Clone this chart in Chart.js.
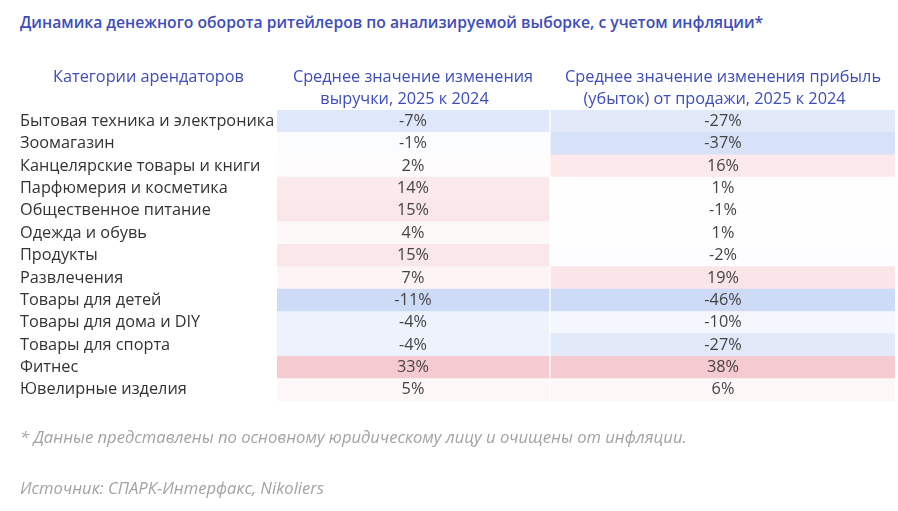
<!DOCTYPE html>
<html>
<head>
<meta charset="utf-8">
<script src="https://cdn.jsdelivr.net/npm/chart.js@4"></script>
<style>
  body { margin: 0; background: #fff; font-family: "Open Sans", sans-serif; }
  #wrap { position: relative; width: 898px; height: 511px; }
  #chart { position: absolute; left: 0; top: 0; }
  .title { position: absolute; left: 20px; top: 11px; font-size: 15.7px; font-weight: 600; color: #3d4db9; white-space: nowrap; }
  .note { position: absolute; left: 20px; font-size: 16.6px; font-style: italic; color: #a3a3a3; white-space: nowrap; }
</style>
</head>
<body>
<div id="wrap">
  <div class="title">Динамика денежного оборота ритейлеров по анализируемой выборке, с учетом инфляции*</div>
  <canvas id="chart" width="898" height="511"></canvas>
  <div class="note" style="top:425px">* Данные представлены по основному юридическому лицу и очищены от инфляции.</div>
  <div class="note" style="top:476px">Источник: СПАРК-Интерфакс, Nikoliers</div>
</div>
<script>
const categories = [
  "Бытовая техника и электроника",
  "Зоомагазин",
  "Канцелярские товары и книги",
  "Парфюмерия и косметика",
  "Общественное питание",
  "Одежда и обувь",
  "Продукты",
  "Развлечения",
  "Товары для детей",
  "Товары для дома и DIY",
  "Товары для спорта",
  "Фитнес",
  "Ювелирные изделия"
];
const revenueChange = [-7, -1, 2, 14, 15, 4, 15, 7, -11, -4, -4, 33, 5];
const profitChange = [-27, -37, 16, 1, -1, 1, -2, 19, -46, -10, -27, 38, 6];
const categoryHeader = "Категории арендаторов";
const columnHeaders = [
  ["Среднее значение изменения", "выручки, 2025 к 2024"],
  ["Среднее значение изменения прибыль", "(убыток) от продажи, 2025 к 2024"]
];

// column layout (x-scale units = px inside the chart area)
const colWidths = [272, 344];
const colGap = 2;
const colStart = [0, colWidths[0] + colGap];
const colEnd = [colWidths[0], colWidths[0] + colGap + colWidths[1]];

const BLUE = [205, 219, 247];
const RED = [245, 203, 209];
const FONT_SIZE = 16.3;
// second header line sits a little left of the first one
const LINE2_PAD = "\u00a0\u00a0\u00a0\u00a0";

const mix = (c, t) => {
  const r = Math.round(255 + (c[0] - 255) * t);
  const g = Math.round(255 + (c[1] - 255) * t);
  const b = Math.round(255 + (c[2] - 255) * t);
  return `rgb(${r},${g},${b})`;
};

// each column has its own scale: strongest negative = full blue, strongest positive = full red
const colorsFor = (values) => {
  const min = Math.min(...values);
  const max = Math.max(...values);
  return values.map((v) => {
    if (v < 0) return mix(BLUE, v / min);
    if (v > 0) return mix(RED, v / max);
    return "#fff";
  });
};

const cellLabels = {
  id: "cellLabels",
  afterDatasetsDraw(chart) {
    const ctx = chart.ctx;
    ctx.save();
    ctx.font = FONT_SIZE + "px 'Open Sans'";
    ctx.fillStyle = "#444";
    ctx.textAlign = "center";
    ctx.textBaseline = "middle";
    chart.data.datasets.forEach((ds, i) => {
      chart.getDatasetMeta(i).data.forEach((bar, j) => {
        const cx = (bar.x + bar.base) / 2;
        ctx.fillText(ds.values[j] + "%", cx, bar.y);
      });
    });
    // header over the category column
    const yScale = chart.scales.y;
    ctx.fillStyle = "#3d4db9";
    ctx.fillText(categoryHeader, (yScale.left + yScale.right) / 2, 77);
    ctx.restore();
  }
};

new Chart(document.getElementById("chart"), {
  type: "bar",
  data: {
    labels: categories,
    datasets: [
      {
        label: "Выручка",
        values: revenueChange,
        data: revenueChange.map(() => [colStart[0], colEnd[0]]),
        backgroundColor: colorsFor(revenueChange),
        grouped: false,
        barPercentage: 1,
        categoryPercentage: 1,
      },
      {
        label: "Прибыль",
        values: profitChange,
        data: profitChange.map(() => [colStart[1], colEnd[1]]),
        backgroundColor: colorsFor(profitChange),
        grouped: false,
        barPercentage: 1,
        categoryPercentage: 1,
      },
    ],
  },
  options: {
    indexAxis: "y",
    responsive: false,
    animation: false,
    layout: { padding: { left: 20, top: 61, right: 3, bottom: 110 } },
    plugins: {
      legend: { display: false },
      tooltip: { enabled: false },
    },
    scales: {
      x: {
        type: "linear",
        position: "top",
        min: 0,
        max: colEnd[1],
        border: { display: false },
        grid: { display: false, drawTicks: false },
        afterBuildTicks: (scale) => {
          scale.ticks = colStart.map((s, i) => ({ value: (s + colEnd[i]) / 2 }));
        },
        afterFit: (scale) => { scale.height = 49; },
        ticks: {
          padding: 0,
          autoSkip: false,
          maxRotation: 0,
          color: "#3d4db9",
          font: { family: "Open Sans", size: FONT_SIZE, lineHeight: 22 / FONT_SIZE },
          callback: (value, index) => [columnHeaders[index][0], columnHeaders[index][1] + LINE2_PAD],
        },
      },
      y: {
        type: "category",
        border: { display: false },
        grid: { display: false, drawTicks: false },
        afterFit: (scale) => { scale.width = 257; },
        ticks: {
          crossAlign: "far",
          padding: 0,
          autoSkip: false,
          color: "#333",
          font: { family: "Open Sans", size: FONT_SIZE },
        },
      },
    },
  },
  plugins: [cellLabels],
});
</script>
</body>
</html>
